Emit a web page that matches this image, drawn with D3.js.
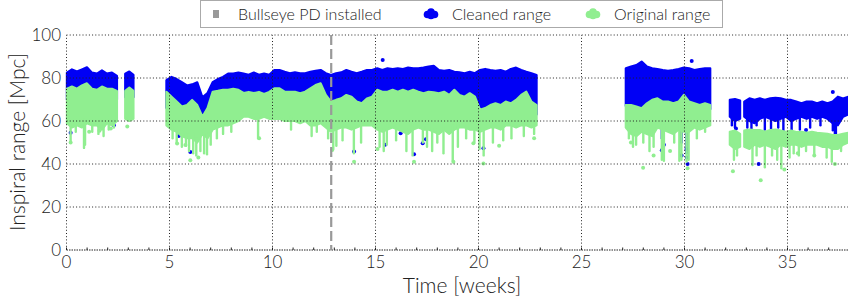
<!DOCTYPE html>
<html>
<head>
<meta charset="utf-8">
<script src="https://cdn.jsdelivr.net/npm/d3@7"></script>
<style>
  body { margin: 0; background: #fff; }
  svg { display: block; font-family: Lato, "DejaVu Sans", sans-serif; font-weight: 300; }
</style>
</head>
<body>
<svg id="chart" width="848" height="304"></svg>
<script>
// observing segments (weeks), sampled evenly between start and end
const segStart = [0.02, 2.85, 4.85, 27.15, 32.2, 32.9]
const segEnd = [2.45, 3.25, 22.82, 31.25, 32.7, 37.95]

// cleaned range band, Mpc
const cleanedHigh = [
  [82.5, 84, 83, 84, 85, 82.5, 82, 83.5, 82, 82.5, 81],
  [82, 83, 81.5],
  [79, 80.5, 79.5, 78, 76.5, 77, 78, 71, 73, 78, 79.5, 80.5, 82, 82, 82.5, 82, 81.5, 82.5, 81.5, 82, 81.5,
   83.7, 83.7, 82.9, 82.2, 82.6, 82.2, 82.2, 82.9, 83.3, 83.7, 82.2, 81.4, 82.2, 82.6, 83.7, 82.9, 82.2, 82.9, 83.7,
   83.7, 84.5, 83.7, 84.5, 84.2, 84.5, 84.2, 84.8, 84.5, 84.5,
   84.8, 85.3, 85.6, 83.7, 83.3, 83.7, 82.9, 82.6, 82.2, 82.9, 82.2, 83.7, 84.2, 83.7, 83.3, 83.7, 82.9, 84.2, 84.8,
   83.7, 82.9, 82.2, 81.4],
  [84.5, 85.3, 86, 87.6, 85.3, 84.5, 84.2, 83.7, 83.3, 83.7, 84.2, 84.8, 84.5, 83.7, 84.2, 84.5, 84.5],
  [69.8, 70.2, 69.5],
  [69, 70.5, 69.8, 70.5, 69.8, 70.5, 70.8, 70.5, 69.8, 69.8, 69, 68.2, 69, 69, 68.2, 69, 68.2, 69, 71.3, 70.5, 71.3]
]
const cleanedLow = [
  [70, 71, 70, 71, 72, 70, 70, 71, 70, 70, 70],
  [71, 71, 71],
  [66, 65, 64, 62, 62, 64, 63, 58, 60, 66, 67, 68, 68, 68, 68, 67, 67, 67, 67, 66,
   67, 68, 68, 68, 68, 68, 67, 68, 68, 69, 70, 67, 64, 65, 65, 67, 66, 64, 64, 65,
   66, 68, 68, 68, 68, 68, 68, 68, 68, 68, 67, 68, 68, 67, 68, 67, 68, 67, 66, 67,
   66, 61, 62, 63, 64, 63, 64, 64, 65, 67, 68, 64, 63],
  [67, 65.5, 66, 65.5, 65, 66.5, 68, 67.5, 67, 67.5, 68, 70, 67.5, 66.5, 67, 66, 65.5],
  [62, 60, 61],
  [62, 60, 59, 61, 62, 61, 60, 61, 62, 60, 61, 62, 61, 62, 61, 62, 61, 59, 58, 62, 63]
]

// original range band, Mpc
const originalHigh = [
  [75, 76, 75, 76.5, 77.5, 75, 74.5, 76, 75, 75, 74],
  [74, 75.5, 74],
  [73.6, 71.3, 69, 66.7, 67.4, 69.8, 67.4, 62, 66, 73.6, 74, 74.5, 74.5, 75, 74.5,
   73, 73.5, 73, 73.5, 72.5, 73.5, 75.2, 75.2, 73.6, 73.6, 73.6, 72.9, 73.6, 75.2, 76.7,
   77.5, 72.1, 69, 69.8, 70.5, 72.1, 71.3, 69, 68.2, 70.5, 71.3, 74.5, 73.6, 73.6, 74.5,
   73.6, 74.5, 73.6, 74.5, 73.6, 72.9, 73.6, 73.3, 72.9, 73.6, 72.1, 74.5, 72.1, 71.3, 72.9,
   71.3, 65.2, 66, 67.4, 68.2, 67.4, 69, 68.2, 69.8, 72.1, 73.6, 69, 67.4],
  [67.4, 67.4, 66.7, 65.9, 68.2, 69.8, 70.5, 69, 69, 68.2, 69, 72.1, 69, 68.2, 67.4, 68.2, 67.4],
  [55, 55.5, 54],
  [55.5, 56, 55.8, 55.8, 55, 55.8, 56, 55.5, 55, 55.5, 54.8, 55, 54.5, 55, 54.5, 54.3, 54, 53.5, 53.5, 54, 54.5]
]
const originalLow = [
  [59, 57, 58, 57, 59, 58, 58, 56, 59, 58, 60],
  [61, 60, 61],
  [58, 56, 55, 53, 52, 52, 50, 54, 52, 56, 57, 58, 58, 59, 60, 62, 62, 61, 61, 62,
   61, 61, 61, 60, 60, 60, 59, 60, 58, 58, 59, 57, 55, 56, 57, 57, 56, 57, 58, 58,
   58, 56, 55, 56, 57, 56, 55, 54, 56, 57, 56, 56, 55, 54, 56, 54, 56, 57, 57, 56,
   56, 55, 56, 57, 57, 56, 58, 58, 57, 58, 58, 57, 58],
  [57, 54, 53, 55, 54, 53, 57, 56, 55, 54, 56, 55, 55, 57, 56, 57, 58],
  [49, 47, 48],
  [48, 47, 49, 48, 49, 48, 47, 49, 48, 49, 49, 48, 49, 49, 49, 48, 48, 47, 47, 49, 50]
]

// narrow downward excursions [week, lowest Mpc]
const originalSpikes = [
  [0.2, 51], [0.45, 55], [0.85, 47.5], [0.9, 49], [1.25, 55], [1.55, 54], [1.8, 53], [2.05, 56], [2.3, 57],
  [5.15, 52], [5.35, 49.5], [5.6, 48], [5.8, 48.5], [5.95, 46], [6.15, 45], [6.3, 44], [6.5, 46], [6.68, 45],
  [6.82, 44.5], [7.0, 49], [7.3, 52], [7.6, 54], [8.0, 55], [9.3, 52], [10.9, 56], [11.9, 53], [12.15, 55],
  [12.7, 52], [12.95, 47], [13.1, 48.5], [13.4, 51], [13.95, 45], [14.3, 50], [15.2, 48], [15.4, 46],
  [15.55, 49], [16.0, 51], [16.5, 46], [16.8, 44], [17.3, 50], [17.5, 48], [17.75, 46], [18.0, 50],
  [18.3, 45], [18.75, 41.5], [19.0, 48], [19.4, 52], [19.8, 50], [20.05, 47], [20.25, 44], [20.7, 50],
  [21.2, 51], [21.6, 52], [22.2, 53], [22.7, 54],
  [27.3, 52], [27.5, 48], [27.65, 49], [28.0, 50], [28.3, 46], [28.5, 48], [28.9, 42], [29.0, 41.5],
  [29.5, 50], [29.75, 41.5], [29.85, 42], [30.1, 41], [30.2, 42], [30.6, 52], [31.0, 55],
  [32.4, 42], [32.55, 44],
  [33.3, 39.5], [33.5, 44], [33.9, 38.5], [34.25, 44], [34.5, 42], [34.7, 38], [35.1, 43], [35.3, 45],
  [35.55, 44], [35.9, 46], [36.3, 45], [36.9, 43], [37.15, 41], [37.6, 46]
]
const cleanedSpikes = [
  [6.62, 58], [6.75, 57],
  [27.45, 62], [27.7, 60], [28.0, 63], [28.3, 61], [28.9, 52], [29.85, 50], [30.1, 45], [30.55, 62], [31.15, 60],
  [32.3, 58], [32.45, 57],
  [33.05, 57], [33.25, 55], [33.5, 58], [33.9, 56], [34.2, 56.5], [34.55, 57], [34.8, 55.7], [35.2, 55],
  [35.6, 56], [36.1, 57], [36.6, 58], [37.2, 55.7], [37.3, 51], [37.35, 53]
]

// isolated points [week, Mpc]
const originalDots = [
  [0.2, 50], [1.1, 55], [1.6, 55.5], [2.15, 56.5], [2.95, 57.5], [5.37, 49.5], [5.77, 48.8], [6.01, 41.8],
  [6.4, 43], [7.15, 57], [9.35, 52], [12.9, 46.5], [13.96, 41], [15.1, 47], [16.87, 41], [18.78, 41],
  [19.75, 49.6], [20.24, 40.2], [21.0, 48.5], [22.7, 52], [27.4, 50], [27.99, 38.3], [28.5, 44], [29.3, 46],
  [30.15, 38], [32.35, 36.6], [33.7, 32.5], [34.85, 37.5], [35.5, 45], [36.3, 44], [37.3, 40]
]
const cleanedDots = [
  [0.2, 54.5], [2.3, 58], [5.45, 53], [6.01, 45.6], [13.96, 45.8], [15.35, 88.4], [15.46, 49], [16.22, 54.3],
  [16.87, 44.5], [17.29, 49.6], [17.45, 51.5], [20.24, 47.3], [27.6, 62], [28.9, 46.4], [29.0, 49],
  [29.86, 44], [30.1, 47], [30.12, 43], [30.15, 40], [30.35, 87.9], [32.5, 56.5], [33.0, 52], [33.6, 40],
  [35.9, 55.8], [36.9, 48.8], [37.2, 73.5]
]

const bullseyeWeek = 12.85
const xTicks = [0, 5, 10, 15, 20, 25, 30, 35]
const yTicks = [0, 20, 40, 60, 80, 100]

const blue = '#0000f5'
const green = '#90ee90'

const svg = d3.select('#chart')
const x = d3.scaleLinear().domain([0, 38]).range([66.5, 849.3])
const y = d3.scaleLinear().domain([0, 100]).range([250, 35])

function samples(k) {
  const n = cleanedHigh[k].length
  const step = (segEnd[k] - segStart[k]) / (n - 1)
  return d3.range(n).map((i) => ({
    w: segStart[k] + i * step,
    ch: cleanedHigh[k][i],
    cl: cleanedLow[k][i],
    oh: originalHigh[k][i],
    ol: originalLow[k][i],
  }))
}
const segs = segStart.map((s, k) => samples(k))

function nearest(w, key) {
  let best = null
  let bd = Infinity
  segs.forEach((pts) =>
    pts.forEach((p) => {
      const d = Math.abs(p.w - w)
      if (d < bd) { bd = d; best = p }
    })
  )
  return best[key]
}

const data = svg.append('g')

function band(lo, hi, color) {
  const area = d3.area()
    .x((d) => x(d.w))
    .y0((d) => y(d[lo]))
    .y1((d) => y(d[hi]))
  data.append('g')
    .selectAll('path')
    .data(segs)
    .join('path')
    .attr('d', area)
    .attr('fill', color)
    .attr('stroke', color)
    .attr('stroke-width', 2.2)
    .attr('stroke-linejoin', 'round')
}
function spikes(list, key, color) {
  data.append('g')
    .selectAll('line')
    .data(list)
    .join('line')
    .attr('x1', (d) => x(d[0]))
    .attr('x2', (d) => x(d[0]))
    .attr('y1', (d) => y(d[1]))
    .attr('y2', (d) => y(nearest(d[0], key) + 2))
    .attr('stroke', color)
    .attr('stroke-width', 2.4)
    .attr('stroke-linecap', 'round')
}
function dots(list, color) {
  data.append('g')
    .selectAll('circle')
    .data(list)
    .join('circle')
    .attr('cx', (d) => x(d[0]))
    .attr('cy', (d) => y(d[1]))
    .attr('r', 2)
    .attr('fill', color)
}

band('cl', 'ch', blue)
spikes(cleanedSpikes, 'cl', blue)
dots(cleanedDots, blue)
band('ol', 'oh', green)
spikes(originalSpikes, 'ol', green)
dots(originalDots, green)

// grid (drawn over data, dotted)
const grid = svg.append('g').attr('stroke', '#222').attr('stroke-width', 1).attr('stroke-dasharray', '1,2.2')
grid.selectAll('.gx').data(xTicks).join('line')
  .attr('x1', (d) => x(d)).attr('x2', (d) => x(d))
  .attr('y1', y(0)).attr('y2', y(100))
grid.selectAll('.gy').data(yTicks.filter((d) => d > 0)).join('line')
  .attr('x1', x(0)).attr('x2', 848)
  .attr('y1', (d) => y(d)).attr('y2', (d) => y(d))

// bottom axis line with minor week ticks
svg.append('line')
  .attr('x1', x(0)).attr('x2', 848).attr('y1', y(0)).attr('y2', y(0))
  .attr('stroke', '#222').attr('stroke-width', 1).attr('stroke-dasharray', '1.5,1')
svg.append('g').selectAll('line').data(d3.range(0, 38)).join('line')
  .attr('x1', (d) => x(d)).attr('x2', (d) => x(d))
  .attr('y1', y(0)).attr('y2', y(0) - 2.5)
  .attr('stroke', '#222').attr('stroke-width', 1)

// bullseye install marker
svg.append('line')
  .attr('x1', x(bullseyeWeek)).attr('x2', x(bullseyeWeek))
  .attr('y1', y(100)).attr('y2', y(0))
  .attr('stroke', '#999').attr('stroke-width', 2.2).attr('stroke-dasharray', '10,4')

// tick labels
svg.append('g').selectAll('text').data(xTicks).join('text')
  .attr('x', (d) => x(d)).attr('y', 268)
  .attr('text-anchor', 'middle').attr('font-size', 17).attr('fill', '#222')
  .text((d) => d)
svg.append('g').selectAll('text').data(yTicks).join('text')
  .attr('x', 61).attr('y', (d) => y(d) + 6)
  .attr('text-anchor', 'end').attr('font-size', 17).attr('fill', '#222')
  .text((d) => d)

// axis titles
svg.append('text')
  .attr('x', 462).attr('y', 293)
  .attr('text-anchor', 'middle').attr('font-size', 21).attr('fill', '#222')
  .text('Time [weeks]')
svg.append('text')
  .attr('transform', 'translate(25,142) rotate(-90)')
  .attr('text-anchor', 'middle').attr('font-size', 21).attr('fill', '#222')
  .text('Inspiral range [Mpc]')

// legend
const legend = svg.append('g')
legend.append('rect')
  .attr('x', 200.5).attr('y', 0.5).attr('width', 522).attr('height', 27)
  .attr('fill', '#fff').attr('stroke', '#aaa').attr('stroke-width', 1)
legend.append('rect')
  .attr('x', 213).attr('y', 10).attr('width', 6).attr('height', 8).attr('fill', '#999')
function blob(cx, cy, color) {
  const g = legend.append('g').attr('fill', color)
  ;[[-3.5, 1], [0, -1.5], [3.5, 1], [0, 2]].forEach((o) =>
    g.append('circle').attr('cx', cx + o[0]).attr('cy', cy + o[1]).attr('r', 3.8))
}
blob(431, 13.5, blue)
blob(593, 13.5, green)
const legendItems = [['Bullseye PD installed', 238], ['Cleaned range', 452], ['Original range', 614]]
legend.selectAll('text.item').data(legendItems).join('text')
  .attr('x', (d) => d[1]).attr('y', 19.5)
  .attr('font-size', 16).attr('fill', '#222')
  .text((d) => d[0])
</script>
</body>
</html>
